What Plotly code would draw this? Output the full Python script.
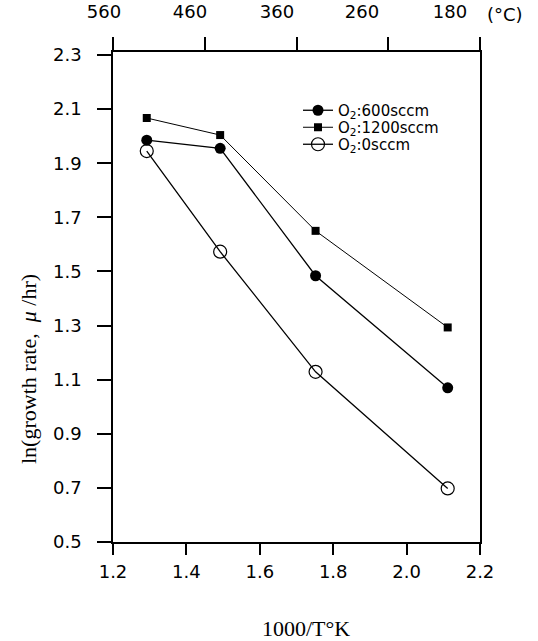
import plotly.graph_objects as go

# ---- data ----
x_vals = [1.292, 1.492, 1.752, 2.112]          # 1000/T (1/K)
y_600 = [1.985, 1.955, 1.484, 1.070]            # O2: 600 sccm
y_1200 = [2.067, 2.004, 1.650, 1.293]           # O2: 1200 sccm
y_0 = [1.945, 1.573, 1.129, 0.698]              # O2: 0 sccm

x_ticks = [1.2, 1.4, 1.6, 1.8, 2.0, 2.2]
y_ticks = [0.5, 0.7, 0.9, 1.1, 1.3, 1.5, 1.7, 1.9, 2.1, 2.3]
top_tick_labels = ["560", "460", "360", "260", "180"]
series_names = ["O<sub>2</sub>:600sccm", "O<sub>2</sub>:1200sccm", "O<sub>2</sub>:0sccm"]

W, H = 538, 641
L, R = 113, 538 - 480
T = 52
B = H - 542
pw = W - L - R
ph = H - T - B


def px(xr_):   # reference pixel x -> paper x
    return (xr_ - L) / pw


def py(yr_):   # reference pixel y -> paper y
    return (H - B - yr_) / ph


tick_font = dict(family="DejaVu Sans, Liberation Sans, sans-serif", size=18, color="black")
leg_font = dict(family="DejaVu Sans, Liberation Sans, sans-serif", size=15, color="black")
serif = "Liberation Serif, Times New Roman, serif"

fig = go.Figure()
fig.add_trace(go.Scatter(
    x=x_vals, y=y_600, name=series_names[0], mode="lines+markers", legend="legend",
    line=dict(color="black", width=1.3),
    marker=dict(symbol="circle", size=11, color="black")))
fig.add_trace(go.Scatter(
    x=x_vals, y=y_1200, name=series_names[1], mode="lines+markers", legend="legend2",
    line=dict(color="black", width=1),
    marker=dict(symbol="square", size=8, color="black")))
fig.add_trace(go.Scatter(
    x=x_vals, y=y_0, name=series_names[2], mode="lines+markers", legend="legend3",
    line=dict(color="black", width=1.3),
    marker=dict(symbol="circle-open", size=13, color="black", line=dict(width=1.2, color="black"))))

# invisible traces to activate top axes
fig.add_trace(go.Scatter(x=[x_ticks[0]], y=[y_ticks[0]], xaxis="x2", mode="markers",
                         marker=dict(opacity=0), showlegend=False, hoverinfo="skip"))
fig.add_trace(go.Scatter(x=[x_ticks[0]], y=[y_ticks[0]], xaxis="x3", mode="markers",
                         marker=dict(opacity=0), showlegend=False, hoverinfo="skip"))

xr = [x_ticks[0], x_ticks[-1]]
n_top = len(top_tick_labels)
top_tick_vals = [xr[0] + i * (xr[1] - xr[0]) / (n_top - 1) for i in range(n_top)]
# label centres in the reference sit a little left of their ticks
label_px = [104, 190, 277, 362, 450]
shift = -9
top_label_vals = [xr[0] + (p - shift - L) / pw * (xr[1] - xr[0]) for p in label_px]


def leg(row_y):
    return dict(x=px(298), y=py(row_y - 13), xanchor="left", yanchor="top",
                bgcolor="rgba(0,0,0,0)", font=leg_font, itemwidth=30)


fig.update_layout(
    width=W, height=H,
    margin=dict(l=L, r=R, t=T, b=B, autoexpand=False),
    paper_bgcolor="white", plot_bgcolor="white",
    showlegend=True,
    legend=leg(107), legend2=leg(124), legend3=leg(141),
    xaxis=dict(range=xr, tickvals=x_ticks, tickformat=".1f",
               showline=True, linecolor="black", linewidth=1.5, mirror=True,
               ticks="outside", ticklen=11, tickwidth=1.5, tickcolor="black",
               showgrid=False, zeroline=False, tickfont=tick_font, ticklabelstandoff=2),
    xaxis2=dict(range=xr, overlaying="x", side="top", anchor="y",
                tickvals=top_tick_vals, showticklabels=False,
                ticks="outside", ticklen=14, tickwidth=1.5, tickcolor="black",
                showline=False, showgrid=False, zeroline=False),
    xaxis3=dict(range=xr, overlaying="x", side="top", anchor="y",
                tickvals=top_label_vals, ticktext=top_tick_labels, ticklabelshift=shift,
                ticks="outside", ticklen=14, tickcolor="rgba(0,0,0,0)", ticklabelstandoff=12,
                showline=False, showgrid=False, zeroline=False, tickfont=tick_font),
    yaxis=dict(range=[y_ticks[0], 2.311], tickvals=y_ticks, tickformat=".1f",
               showline=True, linecolor="black", linewidth=1.5, mirror=True,
               ticks="outside", ticklen=14, tickwidth=1.5, tickcolor="black",
               showgrid=False, zeroline=False, tickfont=tick_font, ticklabelstandoff=12),
    annotations=[
        dict(text="(°C)", xref="paper", yref="paper", x=px(485), y=py(15),
             xanchor="left", yanchor="middle", showarrow=False, font=tick_font),
        dict(text="1000/T°K", xref="paper", yref="paper", x=px(306), y=py(628),
             xanchor="center", yanchor="middle", showarrow=False,
             font=dict(family=serif, size=22, color="black")),
        dict(text="ln(growth rate,  <i>μ</i> /hr)", xref="paper", yref="paper",
             x=px(28), y=py(369), textangle=-90,
             xanchor="center", yanchor="middle", showarrow=False,
             font=dict(family=serif, size=22, color="black")),
    ],
)

# remove the browser's default 8px body margin so the figure sits at the page origin
fig.write_html("out.html", config={"displayModeBar": False},
               post_script="document.body.style.margin='0';")
